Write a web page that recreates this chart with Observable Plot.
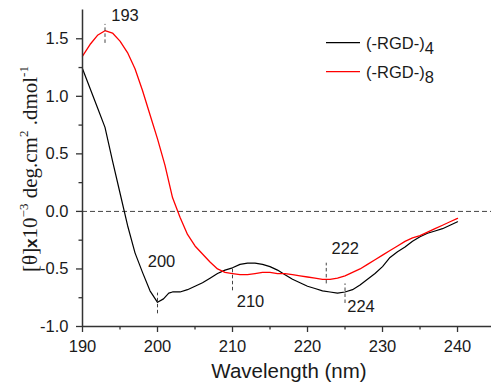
<!DOCTYPE html>
<html><head><meta charset="utf-8">
<script src="https://cdn.jsdelivr.net/npm/d3@7"></script>
<script src="https://cdn.jsdelivr.net/npm/@observablehq/plot@0.6"></script>
<style>body{margin:0;background:#fff;} #chart{position:relative;width:491px;height:385px;}</style>
</head><body><div id="chart"></div>
<script>
// (-RGD-)4 — black
const wl4 = [190,191,192,193,194,195,196,197,198,199,200,200.8,201.5,202,203,204,205,206,207,208,209,210,211,212,213,214,215,216,217,218,219,220,221,222,223,224,225,226,227,228,229,230,231,232,233,234,235,236,237,238,239,240];
const cd4 = [1.24,1.07,0.90,0.73,0.44,0.16,-0.12,-0.36,-0.53,-0.69,-0.79,-0.76,-0.71,-0.70,-0.70,-0.68,-0.65,-0.62,-0.58,-0.54,-0.51,-0.49,-0.46,-0.45,-0.45,-0.46,-0.48,-0.51,-0.55,-0.59,-0.62,-0.65,-0.67,-0.69,-0.70,-0.71,-0.70,-0.68,-0.64,-0.59,-0.54,-0.48,-0.40,-0.35,-0.31,-0.26,-0.22,-0.19,-0.17,-0.15,-0.12,-0.09];
// (-RGD-)8 — red
const wl8 = [190,191,192,193,194,195,196,197,198,199,200,201,202,203,204,205,206,207,208,209,210,211,212,213,214,215,216,217,218,219,220,221,222,223,224,225,226,227,228,229,230,231,232,233,234,235,236,237,238,239,240];
const cd8 = [1.35,1.45,1.53,1.57,1.55,1.48,1.38,1.24,1.05,0.84,0.63,0.40,0.12,-0.05,-0.20,-0.30,-0.37,-0.44,-0.50,-0.53,-0.54,-0.55,-0.55,-0.54,-0.53,-0.53,-0.54,-0.54,-0.55,-0.56,-0.57,-0.58,-0.59,-0.59,-0.58,-0.56,-0.53,-0.50,-0.46,-0.42,-0.38,-0.34,-0.30,-0.26,-0.23,-0.21,-0.18,-0.15,-0.12,-0.09,-0.06];

const seriesNames = ["(-RGD-)", "(-RGD-)"];
const seriesSubs = ["4", "8"];
const seriesColors = ["#000000", "#ff0000"];

const xTicks = [190,200,210,220,230,240];
const xMinor = [195,205,215,225,235];
const yTicks = [-1.0,-0.5,0.0,0.5,1.0,1.5];
const yMinor = [-0.75,-0.25,0.25,0.75,1.25];

// peak annotations: wavelength, CD value at marker, label
const peakWl = [193, 200, 210, 222.5, 225];
const peakVal = [1.57, -0.80, -0.50, -0.59, -0.71];
const peakLabel = ["193", "200", "210", "222", "224"];

// layout of the annotations (segment extents relative to the value, text offsets in px)
const segLo = [-0.11, -0.09, -0.19, -0.04, -0.09];
const segHi = [0.055, 0.09, 0.01, 0.14, 0.08];
const txtDx = [20, 4, 18, 19, 16];
const txtDy = [-15, -42, 33, -31, 14];

const data4 = wl4.map((x, i) => ({x, y: cd4[i]}));
const data8 = wl8.map((x, i) => ({x, y: cd8[i]}));
const peaks = peakWl.map((x, i) => ({x, y: peakVal[i], lo: peakVal[i] + segLo[i], hi: peakVal[i] + segHi[i], label: peakLabel[i], dx: txtDx[i], dy: txtDy[i]}));

const axisColor = "#333";
const font = "'Liberation Sans', Arial, sans-serif";

const plot = Plot.plot({
  width: 491, height: 385,
  marginLeft: 82, marginRight: 0, marginTop: 9.5, marginBottom: 59,
  x: {domain: [190, 244.53], label: null},
  y: {domain: [-1, 1.75], label: null},
  style: {fontFamily: font, fontSize: "16.5px", color: "#1a1a1a", background: "white"},
  marks: [
    Plot.ruleY([0], {stroke: "#444", strokeDasharray: "5,3", strokeWidth: 1}),
    Plot.line(data4, {x: "x", y: "y", stroke: seriesColors[0], strokeWidth: 1.2}),
    Plot.line(data8, {x: "x", y: "y", stroke: seriesColors[1], strokeWidth: 1.3}),
    Plot.ruleX(peaks, {x: "x", y1: "lo", y2: "hi", stroke: "#444", strokeDasharray: "3.5,2.5", strokeWidth: 1}),
    ...peaks.map(p => Plot.text([p], {x: "x", y: "y", text: "label", dx: p.dx, dy: p.dy, fontSize: 16.5, fill: "#1a1a1a"})),
    Plot.ruleY([-1], {stroke: axisColor, strokeWidth: 1.5}),
    Plot.ruleX([190], {stroke: axisColor, strokeWidth: 1.5}),
    Plot.axisX({ticks: xTicks, tickSize: 6, tickPadding: 8, tickFormat: d => String(d), stroke: axisColor, strokeWidth: 1.3, label: null}),
    Plot.axisX({ticks: xMinor, tickSize: 3.5, tickFormat: () => "", stroke: axisColor, strokeWidth: 1.3, label: null}),
    Plot.axisY({ticks: yTicks, tickSize: 6, tickPadding: 8, tickFormat: d => d.toFixed(1), stroke: axisColor, strokeWidth: 1.3, label: null}),
    Plot.axisY({ticks: yMinor, tickSize: 3.5, tickFormat: () => "", stroke: axisColor, strokeWidth: 1.3, label: null})
  ]
});

document.getElementById("chart").appendChild(plot);
const svg = d3.select(plot);

// x title
svg.append("text").attr("x", 289).attr("y", 378).attr("text-anchor", "middle")
  .attr("font-family", font).attr("font-size", 20.5).attr("fill", "#1a1a1a").text("Wavelength (nm)");

// y title
const yt = svg.append("text").attr("transform", "translate(37,169) rotate(-90)")
  .attr("text-anchor", "middle").attr("font-family", "'Liberation Serif', 'Times New Roman', serif")
  .attr("font-size", 21).attr("fill", "#1a1a1a");
yt.append("tspan").text("[θ]");
yt.append("tspan").attr("font-family", font).attr("font-weight", "bold").attr("font-size", 17).text("x");
yt.append("tspan").text("10");
yt.append("tspan").attr("font-size", 13).attr("dy", -9).text("\u22123");
yt.append("tspan").attr("dy", 9).text(" deg.cm");
yt.append("tspan").attr("font-size", 13).attr("dy", -9).text("2");
yt.append("tspan").attr("dy", 9).text(" .dmol");
yt.append("tspan").attr("font-size", 13).attr("dy", -9).text("-1");

// legend
const legY = [42.7, 71.7];
seriesNames.forEach((name, i) => {
  svg.append("line").attr("x1", 326).attr("x2", 360).attr("y1", legY[i]).attr("y2", legY[i])
    .attr("stroke", seriesColors[i]).attr("stroke-width", 1.3);
  const t = svg.append("text").attr("x", 366).attr("y", legY[i] + 6.5).attr("text-anchor", "start")
    .attr("font-family", font).attr("font-size", 16.5).attr("fill", "#1a1a1a");
  t.append("tspan").text(name);
  t.append("tspan").attr("dy", 4.5).text(seriesSubs[i]);
});
</script>
</body></html>
